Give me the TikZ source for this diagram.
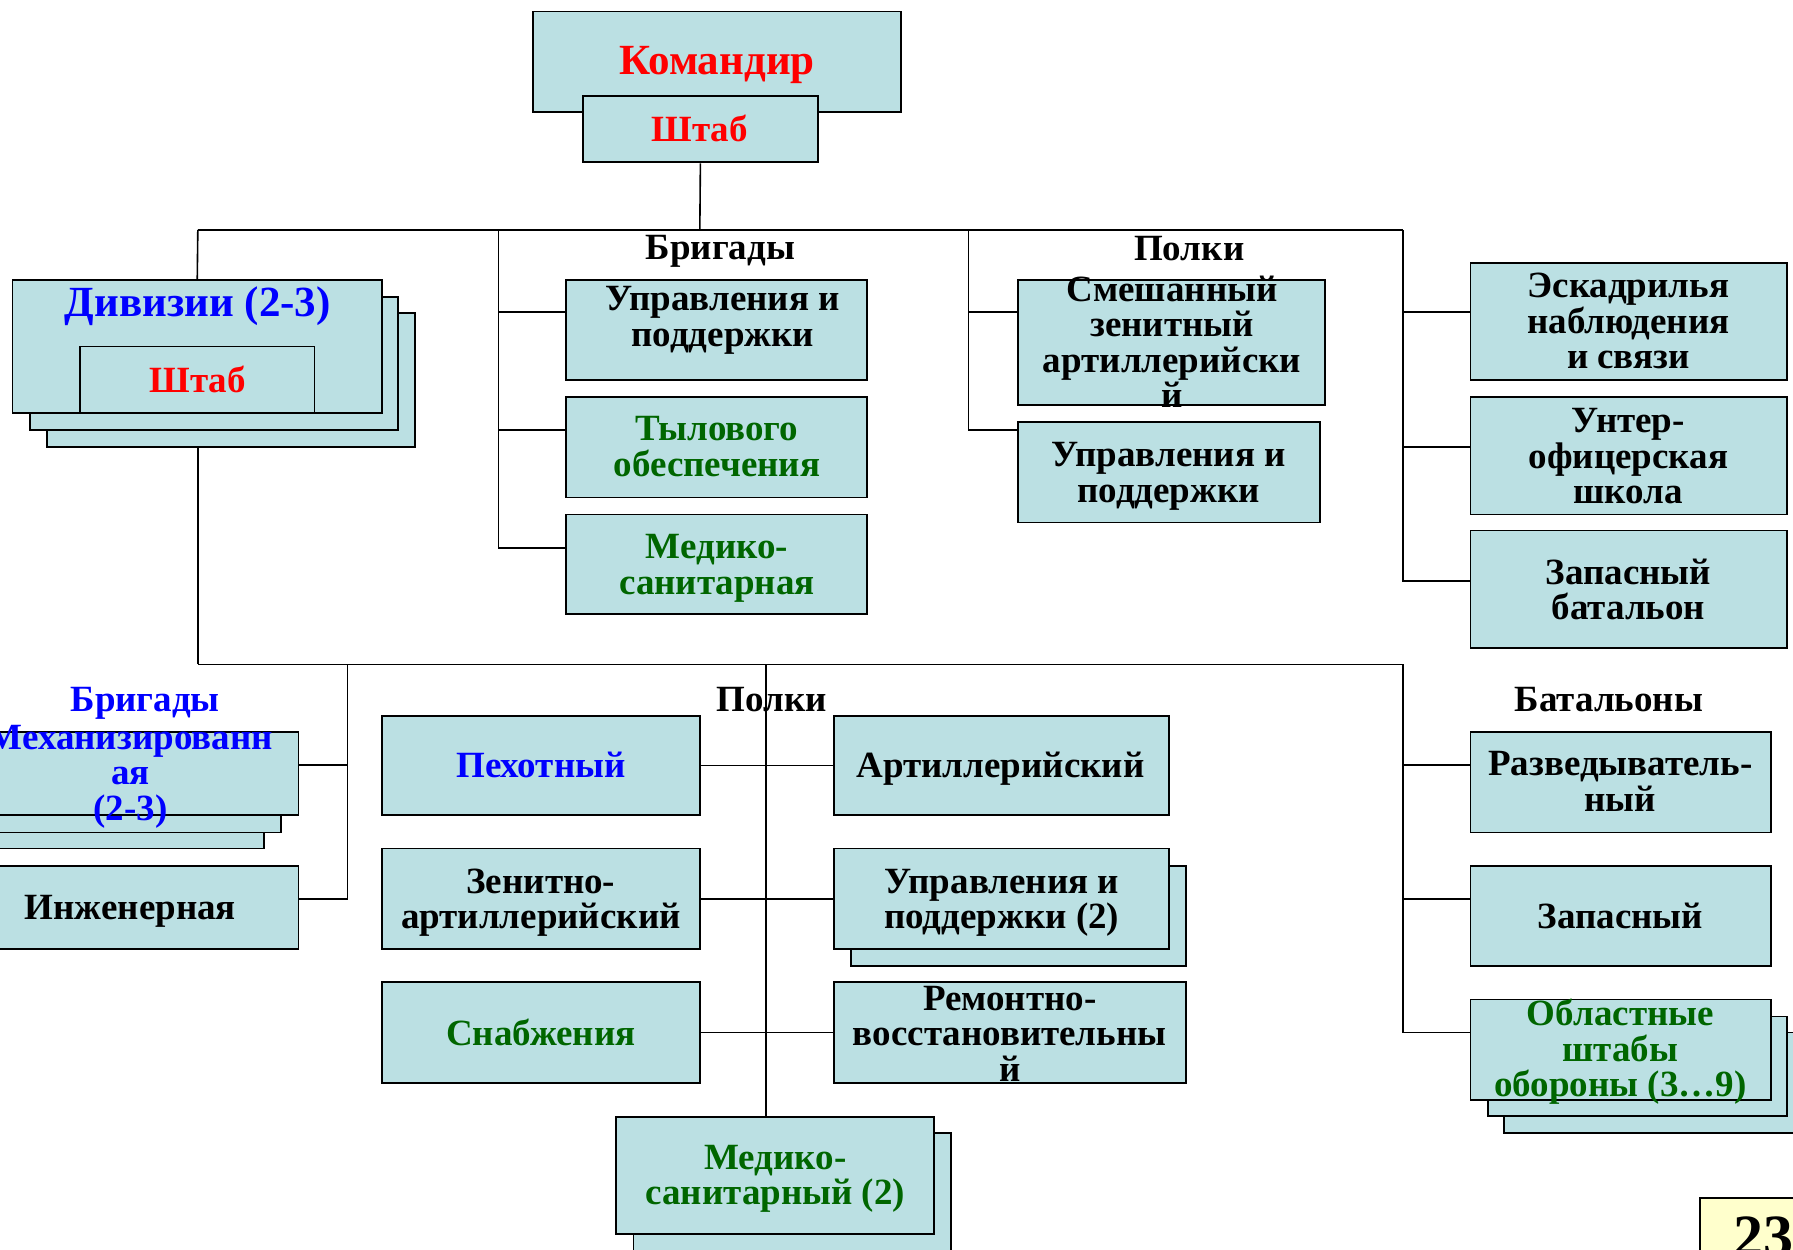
\documentclass[tikz,border=0pt]{standalone}
\usepackage{fontspec}
\setmainfont{Liberation Serif}
\usetikzlibrary{fit,calc}
\definecolor{boxfill}{HTML}{BBE0E3}
\definecolor{dgreen}{HTML}{006600}
\definecolor{pagefill}{HTML}{FFFFCC}
\tikzset{
  box/.style={draw=black, line width=1.8pt, fill=boxfill, inner sep=0pt},
  txt/.style={font=\bfseries\fontsize{37}{35.5}\selectfont, align=center, inner sep=0pt},
  bigtxt/.style={font=\bfseries\fontsize{43}{40}\selectfont, align=center, inner sep=0pt},
  conn/.style={draw=black, line width=1.6pt}
}
\begin{document}
\begin{tikzpicture}[x=1.1435pt,y=-1.1435pt]
\useasboundingbox (0,0) rectangle (1568,1093);
\clip (0,0) rectangle (1568,1093);

% ---------- top ----------
\node[box, fit={(466,10)(788,98)}] (cmd) {};
\node[bigtxt, text=red] (cmdT) at (627,57) {Командир};
\node[box, fit={(510,84)(715,142)}] (hq) {};
\node[txt, text=red] (hqT) at (612,112) {Штаб};

% ---------- divisions ----------
\node[box, fit={(41,274)(363,391)}] (div3) {};
\node[box, fit={(26,260)(348,376)}] (div2) {};
\node[box, fit={(11,245)(334,361)}] (div) {};
\node[bigtxt, text=blue] (divT) at (173,268) {Дивизии (2-3)};
\node[box, fit={(70,303)(275,361)}] (divhq) {};
\node[txt, text=red] (divhqT) at (173,332) {Штаб};

% ---------- brigades (top) ----------
\node[txt] (brL) at (630,220) {Бригады};
\node[box, fit={(495,245)(758,332)}] (brA) {};
\node[txt] (brAT) at (632,280) {Управления и\\поддержки};
\node[box, fit={(495,347)(758,435)}] (brB) {};
\node[txt, text=dgreen] (brBT) at (627,390.5) {Тылового\\обеспечения};
\node[box, fit={(495,450)(758,537)}] (brC) {};
\node[txt, text=dgreen] (brCT) at (627,497) {Медико-\\санитарная};

% ---------- regiments (top) ----------
\node[txt] (plL) at (1040,217) {Полки};
\node[box, fit={(890,245)(1159,354)}] (plA) {};
\node[txt] (plAT) at (1025,299) {Смешанный\\зенитный\\артиллерийски\\й};
\node[box, fit={(890,369)(1154,457)}] (plB) {};
\node[txt] (plBT) at (1022,416.5) {Управления и\\поддержки};

% ---------- right column (top) ----------
\node[box, fit={(1286,230)(1563,332)}] (rA) {};
\node[txt] (rAT) at (1424,281) {Эскадрилья\\наблюдения\\и связи};
\node[box, fit={(1286,347)(1563,450)}] (rB) {};
\node[txt] (rBT) at (1424,399) {Унтер-\\офицерская\\школа};
\node[box, fit={(1286,464)(1563,567)}] (rC) {};
\node[txt] (rCT) at (1424,515.5) {Запасный\\батальон};

% ---------- lower left ----------
\node[txt, text=blue] (br2L) at (127,615) {Бригады};
\node[box, fit={(-40,669)(231,742)}] (mech3) {};
\node[box, fit={(-40,655)(246,728)}] (mech2) {};
\node[box, fit={(-40,640)(261,713)}] (mech) {};
\node[txt, text=blue] (mechT) at (114,679) {Механизированн\\ая\\(2-3)};
\node[box, fit={(-40,757)(261,830)}] (eng) {};
\node[txt] (engT) at (114,797) {Инженерная};

% ---------- lower centre ----------
\node[txt] (pl2L) at (675,612) {Полки};
\node[box, fit={(334,626)(612,713)}] (pex) {};
\node[txt, text=blue] (pexT) at (473,669) {Пехотный};
\node[box, fit={(334,742)(612,830)}] (zen) {};
\node[txt] (zenT) at (473,789.5) {Зенитно-\\артиллерийский};
\node[box, fit={(334,859)(612,947)}] (sna) {};
\node[txt, text=dgreen] (snaT) at (473,903) {Снабжения};
\node[box, fit={(729,626)(1022,713)}] (art) {};
\node[txt] (artT) at (875,672) {Артиллерийский};
\node[box, fit={(744,757)(1037,845)}] (upr2b) {};
\node[box, fit={(729,742)(1022,830)}] (upr2) {};
\node[txt] (upr2T) at (876,789.5) {Управления и\\поддержки (2)};
\node[box, fit={(729,859)(1037,947)}] (rem) {};
\node[txt] (remT) at (883,904) {Ремонтно-\\восстановительны\\й};
\node[box, fit={(554,991)(832,1120)}] (med2b) {};
\node[box, fit={(539,977)(817,1079)}] (med2) {};
\node[txt, text=dgreen] (med2T) at (678,1031) {Медико-\\санитарный (2)};

% ---------- lower right ----------
\node[txt] (batL) at (1407,612) {Батальоны};
\node[box, fit={(1286,640)(1549,728)}] (raz) {};
\node[txt] (razT) at (1417,683.5) {Разведыватель-\\ный};
\node[box, fit={(1286,757)(1549,845)}] (zap) {};
\node[txt] (zapT) at (1417,801) {Запасный};
\node[box, fit={(1315,903)(1600,991)}] (obl3) {};
\node[box, fit={(1301,889)(1563,976)}] (obl2) {};
\node[box, fit={(1286,874)(1549,962)}] (obl) {};
\node[txt, text=dgreen] (oblT) at (1417,920) {Областные\\штабы\\обороны (3…9)};

% ---------- page number ----------
\node[box, fill=pagefill, fit={(1487,1048)(1640,1130)}] (pg) {};
\node[font=\bfseries\fontsize{60}{60}\selectfont, inner sep=0pt] (pgT) at (1542,1082) {23};

% ---------- connectors ----------
\coordinate (jT) at (612,201);
\coordinate (busL) at (173,201);
\coordinate (busR) at (1227,201);
\coordinate (bB) at (436,201);
\coordinate (bP) at (847,201);
\draw[conn] (hq.south) -- (jT);
\draw[conn] (busL) -- (busR);
\draw[conn] (busL) -- (div.north);
% brigades
\coordinate (bB1) at (436,273);
\coordinate (bB2) at (436,376);
\coordinate (bB3) at (436,479);
\draw[conn] (bB) -- (bB3) -- (bB3 -| brC.west);
\draw[conn] (bB1) -- (bB1 -| brA.west);
\draw[conn] (bB2) -- (bB2 -| brB.west);
% regiments
\coordinate (bP1) at (847,273);
\coordinate (bP2) at (847,376);
\draw[conn] (bP) -- (bP2) -- (bP2 -| plB.west);
\draw[conn] (bP1) -- (bP1 -| plA.west);
% right column
\coordinate (bR1) at (1227,273);
\coordinate (bR2) at (1227,391);
\coordinate (bR3) at (1227,508);
\draw[conn] (busR) -- (bR3) -- (bR3 -| rC.west);
\draw[conn] (bR1) -- (bR1 -| rA.west);
\draw[conn] (bR2) -- (bR2 -| rB.west);
% division to lower bus
\coordinate (bus2L) at (173,581);
\coordinate (bus2R) at (1227,581);
\draw[conn] (bus2L |- div3.south) -- (bus2L);
\draw[conn] (bus2L) -- (bus2R);
% lower left
\coordinate (lL) at (304,581);
\coordinate (lL1) at (304,669);
\coordinate (lL2) at (304,786);
\draw[conn] (lL) -- (lL2) -- (lL2 -| eng.east);
\draw[conn] (lL1) -- (lL1 -| mech.east);
% lower centre
\coordinate (cV) at (670,581);
\draw[conn] (cV) -- (cV |- med2.north);
\draw[conn] (pex.east) -- (art.west);
\draw[conn] (zen.east) -- (upr2.west);
\draw[conn] (sna.east) -- (rem.west);
% lower right
\coordinate (lR1) at (1227,669);
\coordinate (lR2) at (1227,786);
\coordinate (lR3) at (1227,903);
\draw[conn] (bus2R) -- (lR3) -- (lR3 -| obl.west);
\draw[conn] (lR1) -- (lR1 -| raz.west);
\draw[conn] (lR2) -- (lR2 -| zap.west);
\end{tikzpicture}
\end{document}
